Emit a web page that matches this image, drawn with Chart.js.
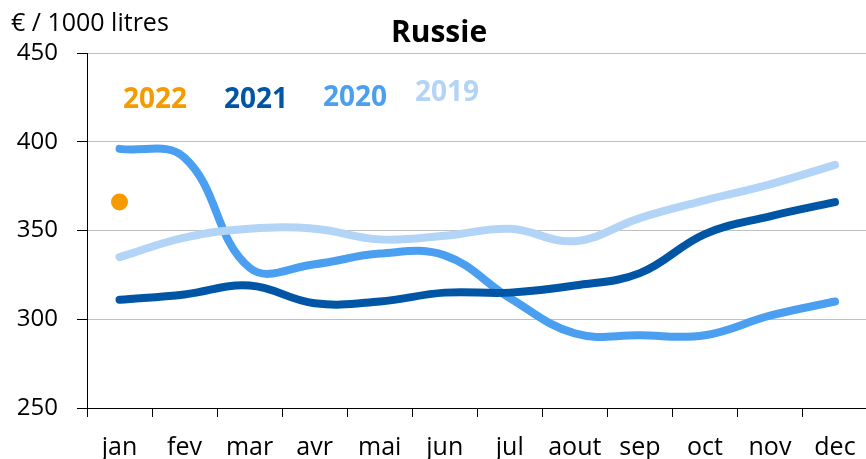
<!DOCTYPE html>
<html>
<head>
<meta charset="utf-8">
<script src="https://cdn.jsdelivr.net/npm/chart.js@4.4.0/dist/chart.umd.min.js"></script>
<style>
  html, body { margin: 0; padding: 0; background: #fff; overflow: hidden; }
  #wrap { width: 876px; height: 459px; }
</style>
</head>
<body>
<div id="wrap"><canvas id="chart" width="876" height="459"></canvas></div>
<script>
// Data
const months = ['jan', 'fev', 'mar', 'avr', 'mai', 'jun', 'jul', 'aout', 'sep', 'oct', 'nov', 'dec'];
const y2022 = [366, null, null, null, null, null, null, null, null, null, null, null];
const y2021 = [311, 314, 319, 309, 310, 315, 315, 319, 326, 348, 358, 366];
const y2020 = [396, 391, 329, 331, 337, 336, 312, 292, 291, 291, 302, 310];
const y2019 = [335, 346, 351, 351, 345, 347, 351, 344, 357, 367, 376, 387];
const yTicks = [250, 300, 350, 400, 450];

const colors = {
    y2022: '#f59b00',
    y2021: '#0055a5',
    y2020: '#4a9ff0',
    y2019: '#b2d4f7'
};

const FONT = "'Open Sans', sans-serif";

// Title, unit and the year labels inside the plot
const textPlugin = {
    id: 'texts',
    afterDraw(chart) {
        const ctx = chart.ctx;
        ctx.save();
        ctx.textBaseline = 'alphabetic';
        ctx.textAlign = 'left';
        ctx.fillStyle = '#000';
        ctx.font = '25px ' + FONT;
        ctx.fillText('€ / 1000 litres', 11, 31);
        ctx.font = 'bold 30px ' + FONT;
        ctx.textAlign = 'center';
        ctx.fillText('Russie', 439, 42);
        ctx.textAlign = 'left';
        ctx.font = 'bold 28px ' + FONT;
        const labels = [
            ['2022', colors.y2022, 123, 108],
            ['2021', colors.y2021, 224, 108],
            ['2020', colors.y2020, 323, 106],
            ['2019', colors.y2019, 415, 101]
        ];
        labels.forEach(([t, c, x, y]) => {
            ctx.fillStyle = c;
            ctx.fillText(t, x, y);
        });
        ctx.restore();
    }
};

const lineStyle = {
    borderWidth: 8,
    borderCapStyle: 'round',
    tension: 0.4,
    pointRadius: 0,
    fill: false
};

new Chart(document.getElementById('chart').getContext('2d'), {
    type: 'line',
    data: {
        labels: months,
        datasets: [
            { label: '2019', data: y2019, borderColor: colors.y2019, ...lineStyle },
            { label: '2021', data: y2021, borderColor: colors.y2021, ...lineStyle },
            { label: '2020', data: y2020, borderColor: colors.y2020, ...lineStyle },
            {
                label: '2022', data: y2022, showLine: false,
                pointRadius: 8.5, pointBackgroundColor: colors.y2022,
                pointBorderWidth: 0, borderColor: colors.y2022
            }
        ]
    },
    options: {
        responsive: false,
        animation: false,
        layout: { padding: { top: 53, right: 0, left: 0, bottom: 0 } },
        plugins: {
            legend: { display: false },
            tooltip: { enabled: false }
        },
        scales: {
            x: {
                offset: true,
                grid: {
                    offset: true,
                    drawOnChartArea: false,
                    drawTicks: true,
                    tickLength: 9,
                    color: '#000'
                },
                border: { color: '#000', width: 1 },
                ticks: {
                    color: '#000',
                    font: { family: FONT, size: 25 },
                    padding: 16,
                    maxRotation: 0,
                    autoSkip: false
                },
                afterFit(scale) { scale.height = 51; }
            },
            y: {
                min: 250,
                max: 450,
                afterBuildTicks(scale) {
                    scale.ticks = yTicks.map(v => ({ value: v }));
                },
                grid: {
                    color: '#c0c0c0',
                    tickColor: '#000',
                    tickLength: 10
                },
                border: { color: '#000', width: 1 },
                ticks: {
                    color: '#000',
                    font: { family: FONT, size: 24 },
                    padding: 19
                },
                afterFit(scale) { scale.width = 87; }
            }
        }
    },
    plugins: [textPlugin]
});
</script>
</body>
</html>
